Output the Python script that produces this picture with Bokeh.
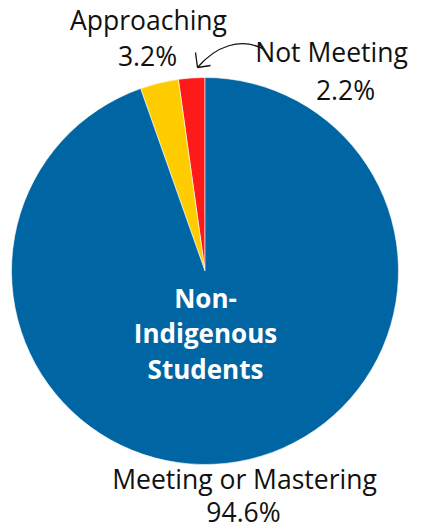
import numpy as np
from bokeh.plotting import figure
from bokeh.models import Range1d, ColumnDataSource
from bokeh.core.properties import value
from bokeh.embed import file_html
from bokeh.resources import INLINE

categories = ["Not Meeting", "Approaching", "Meeting or Mastering"]
percents = [2.2, 3.2, 94.6]
colors = ["#FF1A1A", "#FFCC00", "#0066A3"]
center_title = ["Non-", "Indigenous", "Students"]

W, H = 423, 529
IMG_H = 529


def Y(img_y):
    return IMG_H - img_y


p = figure(width=W, height=H, output_backend="svg", toolbar_location=None,
           x_range=Range1d(0, W), y_range=Range1d(IMG_H - H, IMG_H),
           min_border=0, outline_line_color=None)
p.axis.visible = False
p.grid.visible = False
p.background_fill_color = "white"
p.border_fill_color = "white"

cx, cy, r = 204.5, Y(270.5), 193.5
fr = np.array(percents) / sum(percents)
cum = np.concatenate([[0], np.cumsum(fr)])
start = np.pi / 2 + cum[:-1] * 2 * np.pi
end = np.pi / 2 + cum[1:] * 2 * np.pi
src = ColumnDataSource(dict(start=start, end=end, color=colors, cat=categories))
p.wedge(x=cx, y=cy, radius=r, start_angle="start", end_angle="end",
        fill_color="color", line_color="white", line_width=0.6, source=src)

font = value("Open Sans")
labels = [
    ("Approaching", 148, 19), (f"{percents[1]}%", 147, 55),
    ("Not Meeting", 331, 51), (f"{percents[0]}%", 345, 89),
    ("Meeting or Mastering", 244, 478), (f"{percents[2]}%", 243, 511),
]
p.text(x=[l[1] for l in labels], y=[Y(l[2]) for l in labels], text=[l[0] for l in labels],
       text_font=font, text_font_size="26.5px", text_color="#111111",
       text_align="center", text_baseline="middle")

p.text(x=[205] * 3, y=[Y(297), Y(332), Y(368)], text=center_title,
       text_font=font, text_font_size="26px", text_font_style="bold",
       text_color="white", text_align="center", text_baseline="middle")

# curved arrow annotation
p.bezier(x0=[264], y0=[Y(49)], x1=[197], y1=[Y(67)], cx0=[240], cy0=[Y(36)],
         cx1=[215], cy1=[Y(46)], line_color="#111111", line_width=1.3)
p.segment(x0=[197, 197], y0=[Y(67), Y(67)], x1=[195, 210], y1=[Y(52), Y(65)],
          line_color="#111111", line_width=1.3)

open("out.html", "w").write(file_html(p, INLINE))
